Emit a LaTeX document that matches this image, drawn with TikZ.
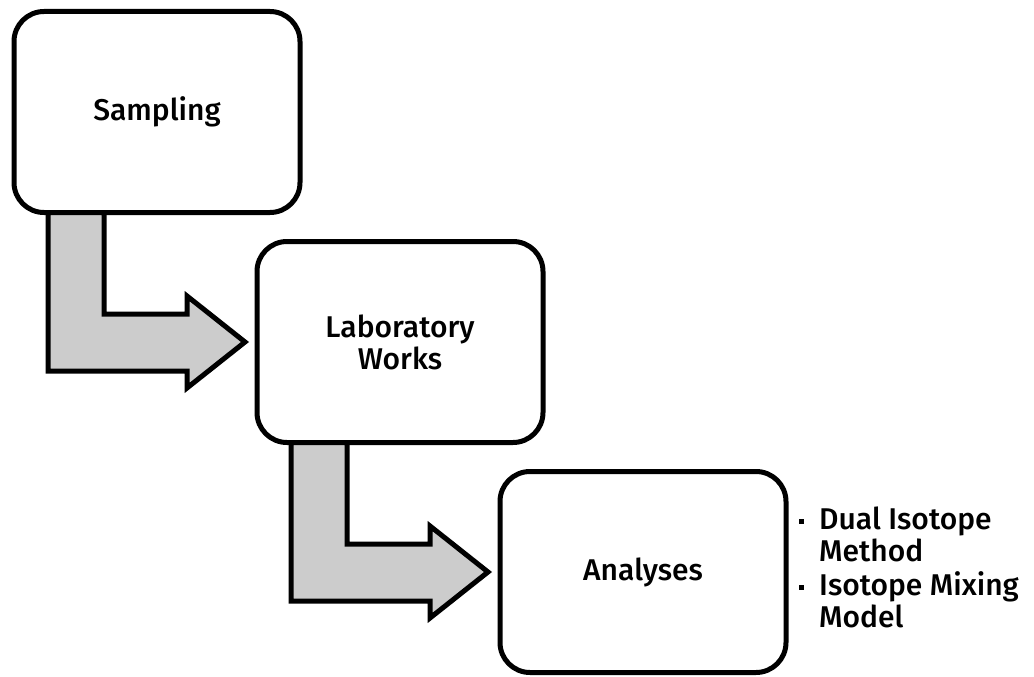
\documentclass[tikz,border=0pt]{standalone}
\usepackage{fontspec}
\setmainfont{Fira Sans Medium}
\usetikzlibrary{positioning, calc}

\newcommand\listmark{\raisebox{0.35ex}{\rule{5pt}{5pt}}}

\tikzset{
  box/.style={draw, line width=5pt, rounded corners=30pt, outer sep=0pt,
    minimum width=286pt, minimum height=201pt, align=center,
    font=\fontsize{30pt}{32pt}\selectfont},
  flow/.style={draw, line width=5pt, fill=black!20, line join=miter},
}

\begin{document}
\begin{tikzpicture}
\useasboundingbox (0,0) rectangle (1034pt,-677pt);
\node[box] (samp) at (157pt,-112pt) {Sampling};
\node[box, below right = 29pt and -43pt of samp] (lab) {Laboratory\\Works};
\node[box, below right = 29pt and -43pt of lab] (ana) {Analyses};
\node[right = 13pt of ana, inner sep=0pt,
    font=\fontsize{30pt}{32pt}\selectfont] (notes)
    {\begin{tabular}{@{}l@{\hspace{15pt}}l@{}}
     \listmark & Dual Isotope\\
               & Method\\
     \listmark & Isotope Mixing\\
               & Model
     \end{tabular}};
\foreach \a/\b in {samp/lab, lab/ana}
  \draw[flow] let \p1 = ($(\a.south west)+(34pt,0)$),
                  \p2 = ($(\b.west)+(-12pt,0)$) in
    (\p1) -- (\x1,{\y2-29pt}) -- ({\x2-58pt},{\y2-29pt})
    -- ({\x2-58pt},{\y2-46pt}) -- (\p2) -- ({\x2-58pt},{\y2+46pt})
    -- ({\x2-58pt},{\y2+28pt}) -- ({\x1+56pt},{\y2+28pt})
    -- ({\x1+56pt},\y1) -- cycle;
\end{tikzpicture}
\end{document}
